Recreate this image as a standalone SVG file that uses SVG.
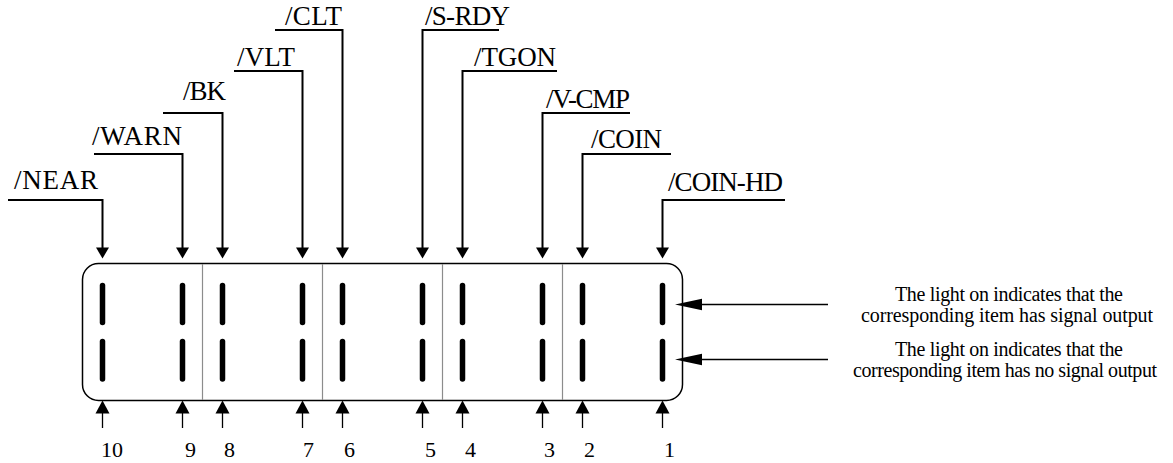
<svg xmlns="http://www.w3.org/2000/svg" width="1173" height="463" viewBox="0 0 1173 463">
<style>
.lbl{font-family:"Liberation Serif","Times New Roman",serif;font-size:27px;fill:#000}
.num{font-family:"Liberation Serif","Times New Roman",serif;font-size:22px;fill:#000}
.note{font-family:"Liberation Serif","Times New Roman",serif;font-size:20px;fill:#000;text-anchor:middle}
.lead{fill:none;stroke:#000;stroke-width:2}
.thin{fill:none;stroke:#000;stroke-width:1.3}
.bar{stroke:#000;stroke-width:5.5;stroke-linecap:round}
.div{stroke:#8c8c8c;stroke-width:1.2}
</style>
<defs>
<path id="ahDown" d="M-6.5,-11 L6.5,-11 L0,0 Z" fill="#000"/>
<path id="ahUp" d="M-7,13 L7,13 L0,0 Z" fill="#000"/>
<path id="ahLeft" d="M0,0 L27,-5.8 L27,5.8 Z" fill="#000"/>
</defs>
<rect fill="#fff" x="0" y="0" width="1173" height="463"/>

<g id="panel">
<rect x="82.5" y="263.5" width="600" height="137" rx="16" ry="16" fill="none" stroke="#000" stroke-width="1.5"/>
<line class="div" x1="202.5" y1="264" x2="202.5" y2="400"/>
<line class="div" x1="322.5" y1="264" x2="322.5" y2="400"/>
<line class="div" x1="442.5" y1="264" x2="442.5" y2="400"/>
<line class="div" x1="562.5" y1="264" x2="562.5" y2="400"/>
</g>

<g id="indicators">
<g id="led10"><line class="bar" x1="102.5" y1="285.5" x2="102.5" y2="322.5"/><line class="bar" x1="102.5" y1="341.5" x2="102.5" y2="379"/></g>
<g id="led9"><line class="bar" x1="182.5" y1="285.5" x2="182.5" y2="322.5"/><line class="bar" x1="182.5" y1="341.5" x2="182.5" y2="379"/></g>
<g id="led8"><line class="bar" x1="222.5" y1="285.5" x2="222.5" y2="322.5"/><line class="bar" x1="222.5" y1="341.5" x2="222.5" y2="379"/></g>
<g id="led7"><line class="bar" x1="302.5" y1="285.5" x2="302.5" y2="322.5"/><line class="bar" x1="302.5" y1="341.5" x2="302.5" y2="379"/></g>
<g id="led6"><line class="bar" x1="342.5" y1="285.5" x2="342.5" y2="322.5"/><line class="bar" x1="342.5" y1="341.5" x2="342.5" y2="379"/></g>
<g id="led5"><line class="bar" x1="422.5" y1="285.5" x2="422.5" y2="322.5"/><line class="bar" x1="422.5" y1="341.5" x2="422.5" y2="379"/></g>
<g id="led4"><line class="bar" x1="462.5" y1="285.5" x2="462.5" y2="322.5"/><line class="bar" x1="462.5" y1="341.5" x2="462.5" y2="379"/></g>
<g id="led3"><line class="bar" x1="542.5" y1="285.5" x2="542.5" y2="322.5"/><line class="bar" x1="542.5" y1="341.5" x2="542.5" y2="379"/></g>
<g id="led2"><line class="bar" x1="582.5" y1="285.5" x2="582.5" y2="322.5"/><line class="bar" x1="582.5" y1="341.5" x2="582.5" y2="379"/></g>
<g id="led1"><line class="bar" x1="662.5" y1="285.5" x2="662.5" y2="322.5"/><line class="bar" x1="662.5" y1="341.5" x2="662.5" y2="379"/></g>
</g>

<g id="connectors">
<polyline class="lead" points="8,200 102.5,200 102.5,248"/><use href="#ahDown" x="102.5" y="258.5"/>
<polyline class="lead" points="94,154 182.5,154 182.5,248"/><use href="#ahDown" x="182.5" y="258.5"/>
<polyline class="lead" points="163,113 222.5,113 222.5,248"/><use href="#ahDown" x="222.5" y="258.5"/>
<polyline class="lead" points="234,71 302.5,71 302.5,248"/><use href="#ahDown" x="302.5" y="258.5"/>
<polyline class="lead" points="275,30 342.5,30 342.5,248"/><use href="#ahDown" x="342.5" y="258.5"/>
<polyline class="lead" points="499,30 422.5,30 422.5,248"/><use href="#ahDown" x="422.5" y="258.5"/>
<polyline class="lead" points="557,71 462.5,71 462.5,248"/><use href="#ahDown" x="462.5" y="258.5"/>
<polyline class="lead" points="630,113 542.5,113 542.5,248"/><use href="#ahDown" x="542.5" y="258.5"/>
<polyline class="lead" points="671,154 582.5,154 582.5,248"/><use href="#ahDown" x="582.5" y="258.5"/>
<polyline class="lead" points="785,200 662.5,200 662.5,248"/><use href="#ahDown" x="662.5" y="258.5"/>

<line class="thin" x1="102.5" y1="412" x2="102.5" y2="428"/><use href="#ahUp" x="102.5" y="400.5"/>
<line class="thin" x1="182.5" y1="412" x2="182.5" y2="428"/><use href="#ahUp" x="182.5" y="400.5"/>
<line class="thin" x1="222.5" y1="412" x2="222.5" y2="428"/><use href="#ahUp" x="222.5" y="400.5"/>
<line class="thin" x1="302.5" y1="412" x2="302.5" y2="428"/><use href="#ahUp" x="302.5" y="400.5"/>
<line class="thin" x1="342.5" y1="412" x2="342.5" y2="428"/><use href="#ahUp" x="342.5" y="400.5"/>
<line class="thin" x1="422.5" y1="412" x2="422.5" y2="428"/><use href="#ahUp" x="422.5" y="400.5"/>
<line class="thin" x1="462.5" y1="412" x2="462.5" y2="428"/><use href="#ahUp" x="462.5" y="400.5"/>
<line class="thin" x1="542.5" y1="412" x2="542.5" y2="428"/><use href="#ahUp" x="542.5" y="400.5"/>
<line class="thin" x1="582.5" y1="412" x2="582.5" y2="428"/><use href="#ahUp" x="582.5" y="400.5"/>
<line class="thin" x1="662.5" y1="412" x2="662.5" y2="428"/><use href="#ahUp" x="662.5" y="400.5"/>

<line class="thin" x1="700" y1="304.5" x2="828" y2="304.5"/><use href="#ahLeft" x="675" y="304.5"/>
<line class="thin" x1="700" y1="359.5" x2="828" y2="359.5"/><use href="#ahLeft" x="675" y="359.5"/>
</g>

<g id="labels">
<text class="lbl" x="14" y="189" textLength="84" lengthAdjust="spacing">/NEAR</text>
<text class="lbl" x="92" y="145" textLength="90" lengthAdjust="spacing">/WARN</text>
<text class="lbl" x="183" y="100" textLength="43" lengthAdjust="spacing">/BK</text>
<text class="lbl" x="237" y="66" textLength="58" lengthAdjust="spacing">/VLT</text>
<text class="lbl" x="285" y="25" textLength="57" lengthAdjust="spacing">/CLT</text>
<text class="lbl" x="425" y="25" textLength="85" lengthAdjust="spacing">/S-RDY</text>
<text class="lbl" x="474" y="66" textLength="82" lengthAdjust="spacing">/TGON</text>
<text class="lbl" x="546" y="108" textLength="84" lengthAdjust="spacing">/V-CMP</text>
<text class="lbl" x="591" y="148" textLength="71" lengthAdjust="spacing">/COIN</text>
<text class="lbl" x="668" y="191" textLength="115" lengthAdjust="spacing">/COIN-HD</text>
</g>

<g id="numbers">
<text class="num" x="101" y="457">10</text>
<text class="num" x="185" y="457">9</text>
<text class="num" x="224" y="457">8</text>
<text class="num" x="303" y="457">7</text>
<text class="num" x="344" y="457">6</text>
<text class="num" x="425" y="457">5</text>
<text class="num" x="465" y="457">4</text>
<text class="num" x="544" y="457">3</text>
<text class="num" x="584" y="457">2</text>
<text class="num" x="664" y="457">1</text>
</g>

<g id="notes">
<text class="note" x="1009" y="301" textLength="228" lengthAdjust="spacing">The light on indicates that the</text>
<text class="note" x="1007" y="322" textLength="292" lengthAdjust="spacing">corresponding item has signal output</text>
<text class="note" x="1009" y="356" textLength="228" lengthAdjust="spacing">The light on indicates that the</text>
<text class="note" x="1005" y="377" textLength="304" lengthAdjust="spacing">corresponding item has no signal output</text>
</g>
</svg>
